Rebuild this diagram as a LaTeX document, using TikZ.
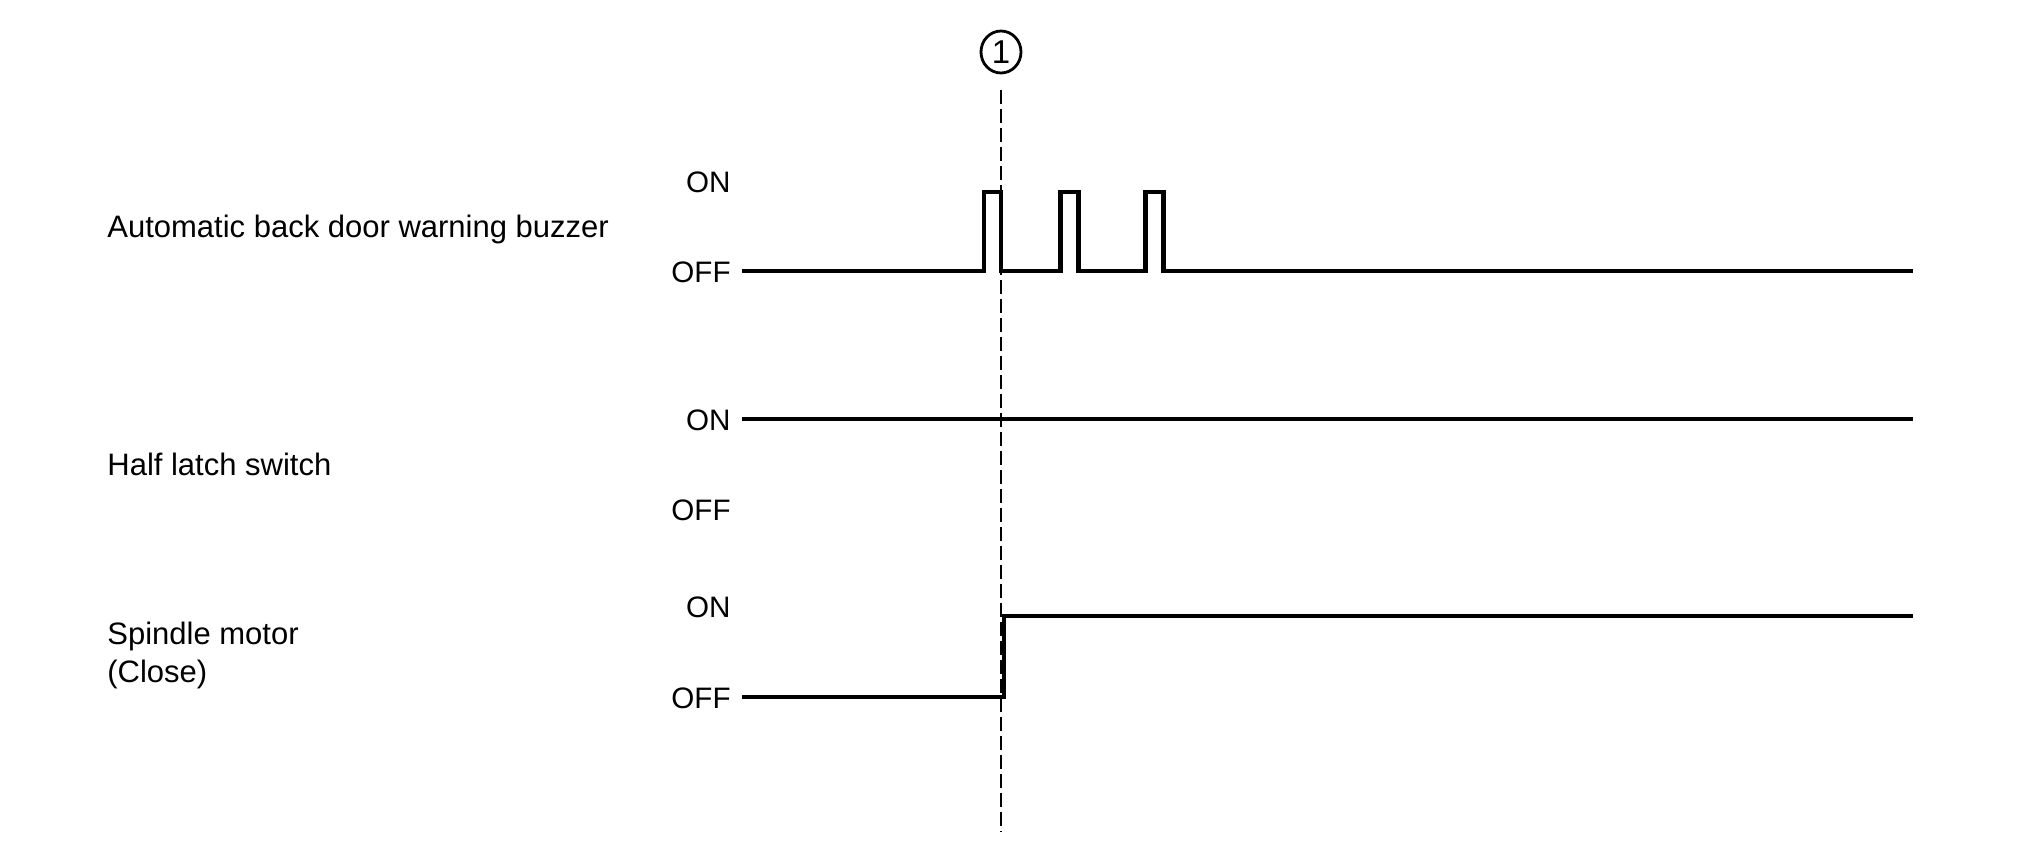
\documentclass[tikz,border=0pt]{standalone}
\usepackage{fontspec}
\setmainfont{Liberation Sans}
\usetikzlibrary{shapes.geometric}
\tikzset{
  signal/.style={line width=2.25pt},
  state/.style={anchor=base east,inner sep=0pt,font=\fontsize{14.8}{17}\selectfont},
  caption/.style={anchor=base west,inner sep=0pt,font=\fontsize{15.5}{19}\selectfont},
}
\begin{document}
\begin{tikzpicture}[x=0.5pt,y=-0.5pt]
  \useasboundingbox (0,0) rectangle (2020,851);
  %% marker
  \node[draw,ellipse,line width=1.4pt,minimum width=20pt,minimum height=21pt,inner sep=0pt,font=\fontsize{16.5}{16.5}\selectfont] (mark) at (1001,52) {1};
  \coordinate (markend) at (1001,832);
  \draw[line width=1pt,dash pattern=on 7pt off 2.5pt] ([yshift=-8pt]mark.south) -- (markend);
  %% buzzer
  \node[caption] (buzzer) at (107,237) {Automatic back door warning buzzer};
  \node[state] (bzon) at (731,192) {ON};
  \node[state] (bzoff) at (731,282) {OFF};
  \draw[signal] (742,271) -- (984,271) -- (984,192) -- (1001,192) -- (1001,271)
    -- (1060.5,271) -- (1060.5,192) -- (1078.5,192) -- (1078.5,271)
    -- (1145.5,271) -- (1145.5,192) -- (1163.5,192) -- (1163.5,271) -- (1913,271);
  %% half latch switch
  \node[caption] (latch) at (107,475) {Half latch switch};
  \node[state] (lton) at (731,430) {ON};
  \node[state] (ltoff) at (731,520) {OFF};
  \draw[signal] (742,419) -- (1913,419);
  %% spindle motor
  \node[caption] (spindle) at (107,644) {Spindle motor};
  \node[caption] (close) at (107,682) {(Close)};
  \node[state] (spon) at (731,617) {ON};
  \node[state] (spoff) at (731,708) {OFF};
  \draw[signal] (742,697) -- (1004,697) -- (1004,616) -- (1913,616);
\end{tikzpicture}
\end{document}
